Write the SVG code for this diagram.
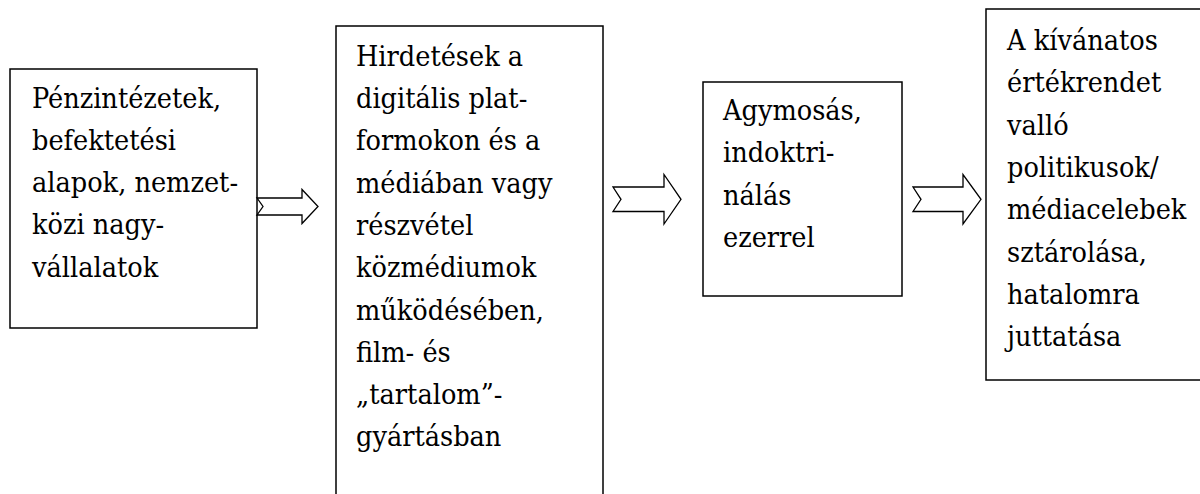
<svg xmlns="http://www.w3.org/2000/svg" width="1200" height="494" viewBox="0 0 1200 494">
<style>
.box{fill:#fff;stroke:#000;stroke-width:1.5}
.arr{fill:#fff;stroke:#000;stroke-width:1.3;stroke-linejoin:miter}
.t{font-family:"DejaVu Serif Condensed","DejaVu Serif","Liberation Serif",serif;font-stretch:condensed;font-size:28.5px;fill:#000}
</style>
<rect width="1200" height="494" fill="#fff"/>
<g id="node1">
<rect class="box" x="10" y="69" width="247" height="259"/>
<text class="t" x="32" y="107.5"><tspan x="32">Pénzintézetek,</tspan><tspan x="32" dy="42.3">befektetési</tspan><tspan x="32" dy="42.3">alapok, nemzet-</tspan><tspan x="32" dy="42.3">közi nagy-</tspan><tspan x="32" dy="42.3">vállalatok</tspan></text>
</g>
<g id="node2">
<rect class="box" x="336" y="26" width="267" height="480"/>
<text class="t" x="356" y="65.7"><tspan x="356">Hirdetések a</tspan><tspan x="356" dy="42.3">digitális plat-</tspan><tspan x="356" dy="42.3">formokon és a</tspan><tspan x="356" dy="42.3">médiában vagy</tspan><tspan x="356" dy="42.3">részvétel</tspan><tspan x="356" dy="42.3">közmédiumok</tspan><tspan x="356" dy="42.3">működésében,</tspan><tspan x="356" dy="42.3">film- és</tspan><tspan x="356" dy="42.3">„tartalom”-</tspan><tspan x="356" dy="42.3">gyártásban</tspan></text>
</g>
<g id="node3">
<rect class="box" x="703" y="82" width="199" height="214"/>
<text class="t" x="723" y="120"><tspan x="723">Agymosás,</tspan><tspan x="723" dy="42.3">indoktri-</tspan><tspan x="723" dy="42.3">nálás</tspan><tspan x="723" dy="42.3">ezerrel</tspan></text>
</g>
<g id="node4">
<rect class="box" x="986" y="9" width="220" height="371"/>
<text class="t" x="1007" y="50"><tspan x="1007">A kívánatos</tspan><tspan x="1007" dy="42.3">értékrendet</tspan><tspan x="1007" dy="42.3">valló</tspan><tspan x="1007" dy="42.3">politikusok/</tspan><tspan x="1007" dy="42.3">médiacelebek</tspan><tspan x="1007" dy="42.3">sztárolása,</tspan><tspan x="1007" dy="42.3">hatalomra</tspan><tspan x="1007" dy="42.3">juttatása</tspan></text>
</g>
<g id="connectors">
<polygon class="arr" points="257,198 302,198 302,189.5 318,206.5 302,223.5 302,215 257,215 263,206.5"/>
<polygon class="arr" points="613,187 664,187 664,174.5 681,199.3 664,224 664,211.5 613,211.5 621,199.3"/>
<polygon class="arr" points="913,187 963,187 963,174.5 981,199.3 963,224 963,211.5 913,211.5 921,199.3"/>
</g>
</svg>
